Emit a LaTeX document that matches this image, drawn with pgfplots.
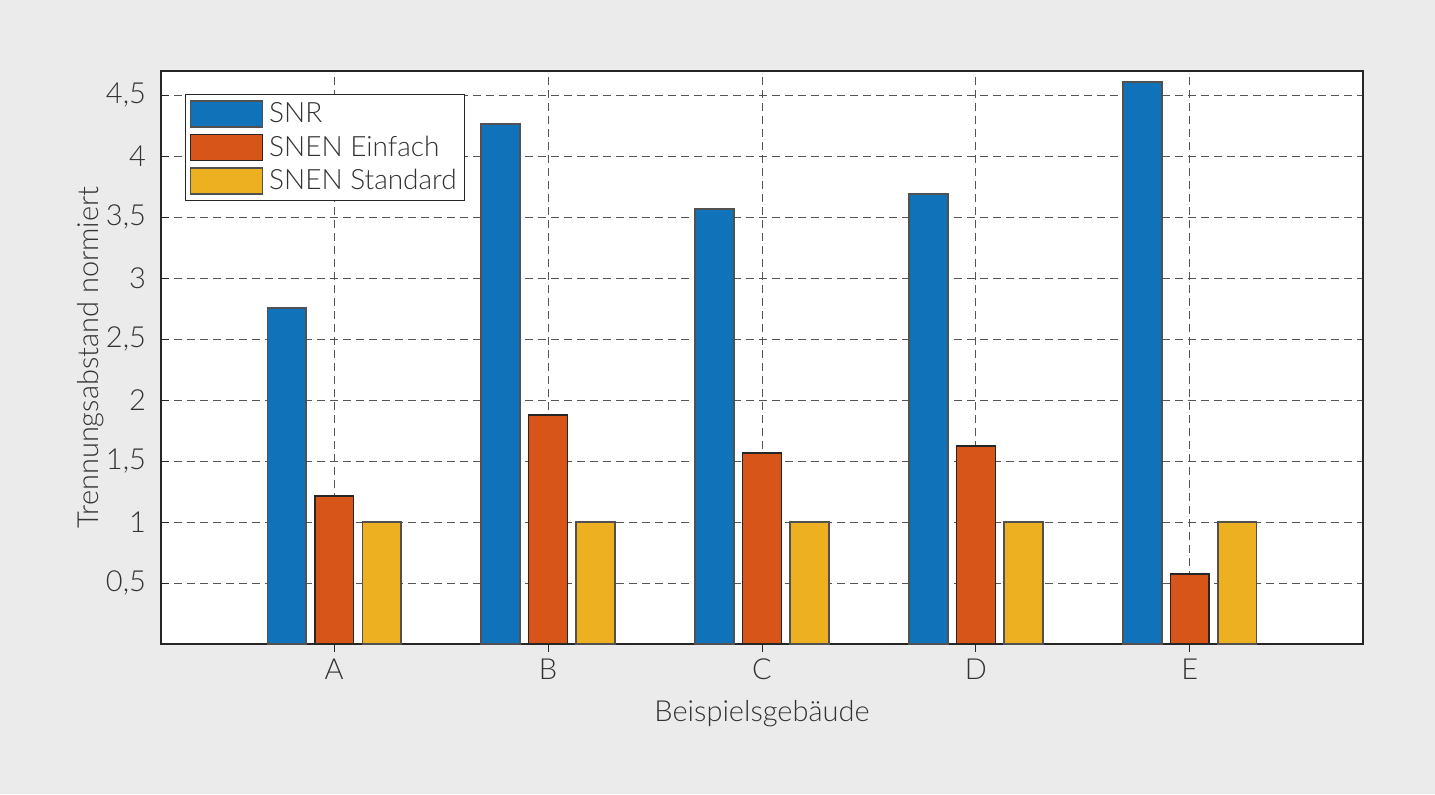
\documentclass[border=0pt]{standalone}
\usepackage{fontspec}
\setmainfont{Lato Light}
\usepackage{pgfplots}
\pgfplotsset{compat=1.18}
\definecolor{bgc}{HTML}{EBEBEB}
\definecolor{c1}{HTML}{1072B8}
\definecolor{c2}{HTML}{D85519}
\definecolor{c3}{HTML}{ECB020}
\definecolor{gridc}{HTML}{555555}
\definecolor{axc}{HTML}{262626}
\begin{document}
\begin{tikzpicture}
\fill[bgc] (0,0) rectangle (717.5pt,397pt);
\begin{axis}[
  at={(80.5pt,75pt)}, anchor=south west,
  scale only axis, width=601pt, height=286.5pt,
  axis background/.style={fill=white},
  axis line style={axc, line width=1pt},
  xmin=0.19, xmax=5.81, ymin=0, ymax=4.697,
  xtick={1,2,3,4,5}, xticklabels={A,B,C,D,E},
  ytick={0.5,1,1.5,2,2.5,3,3.5,4,4.5},
  yticklabel style={/pgf/number format/use comma, xshift=-4pt},
  xticklabel style={yshift=0pt},
  /pgf/number format/assume math mode=true,
  tick align=inside, xtick pos=bottom, ytick pos=left,
  major tick length=4pt, tick style={axc, line width=0.5pt},
  ticklabel style={font=\fontsize{14.5}{17}\selectfont, text=black!80},
  xmajorgrids, ymajorgrids,
  major grid style={gridc, dash pattern=on 4pt off 2.5pt, line width=0.5pt},
  xlabel={Beispielsgebäude}, ylabel={Trennungsabstand normiert},
  label style={font=\fontsize{14.5}{17}\selectfont, text=black!80},
  xlabel style={yshift=-3.5pt},
  ylabel style={yshift=-6pt},
  ybar, bar width=0.182,
  legend style={at={(rel axis cs:0,1)}, anchor=north west, xshift=12pt, yshift=-11.5pt,
    draw=axc, line width=0.7pt, font=\fontsize{14}{17}\selectfont, text=black!80,
    row sep=1pt, inner xsep=2pt, inner ysep=2pt},
  legend cell align=left,
  legend image code/.code={\draw[#1] (0pt,-6.5pt) rectangle (36pt,6.5pt);},
  legend style={/tikz/every odd column/.append style={column sep=1pt}},
]
\addplot[fill=c1, draw=axc!80, line width=0.75pt, bar shift=-0.222] coordinates {(1,2.754) (2,4.262) (3,3.566) (4,3.689) (5,4.607)};
\addplot[fill=c2, draw=axc, line width=0.75pt, bar shift=0] coordinates {(1,1.213) (2,1.877) (3,1.566) (4,1.623) (5,0.574)};
\addplot[fill=c3, draw=axc!80, line width=0.75pt, bar shift=0.222] coordinates {(1,1) (2,1) (3,1) (4,1) (5,1)};
\legend{SNR,SNEN Einfach,SNEN Standard}
\end{axis}
\end{tikzpicture}
\end{document}
